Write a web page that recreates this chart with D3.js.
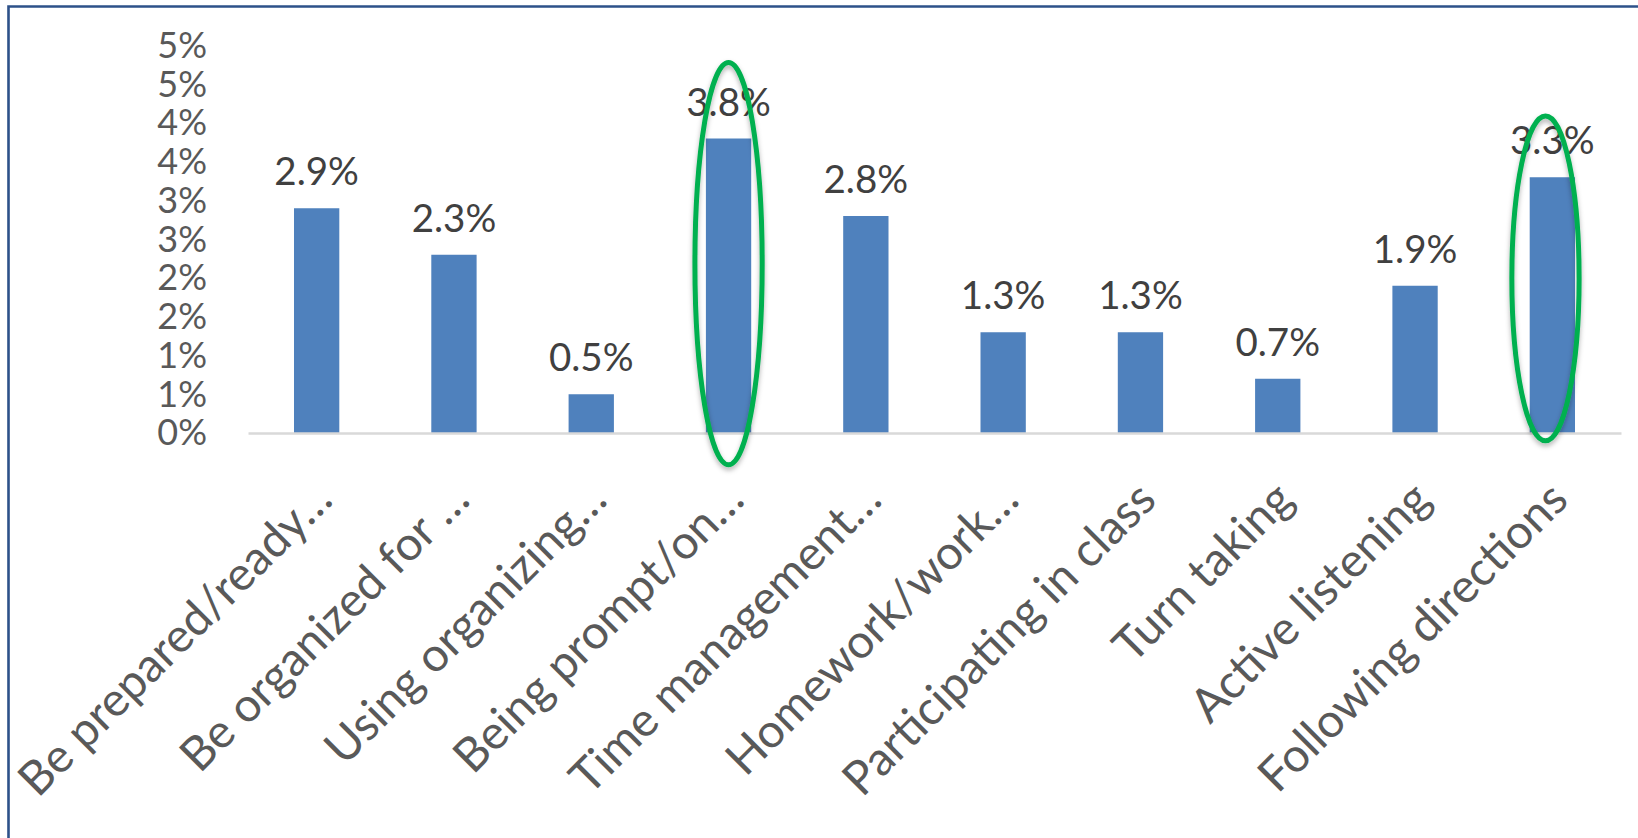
<!DOCTYPE html>
<html>
<head>
<meta charset="utf-8">
<script src="https://cdn.jsdelivr.net/npm/d3@7"></script>
<style>
  html, body { margin: 0; padding: 0; background: #ffffff; }
  svg { display: block; }
</style>
</head>
<body>
<svg id="chart" width="1638" height="838"></svg>
<script>
// Share of responses by skill category (percent)
const categories = [
  "Be prepared/ready…",
  "Be organized for …",
  "Using organizing…",
  "Being prompt/on…",
  "Time management…",
  "Homework/work…",
  "Participating in class",
  "Turn taking",
  "Active listening",
  "Following directions"
];
const values = [2.9, 2.3, 0.5, 3.8, 2.8, 1.3, 1.3, 0.7, 1.9, 3.3];
const valueLabels = ["2.9%", "2.3%", "0.5%", "3.8%", "2.8%", "1.3%", "1.3%", "0.7%", "1.9%", "3.3%"];

// Axis ticks every 0.5 point, labelled with whole-percent rounding
const tickValues = [0, 0.5, 1, 1.5, 2, 2.5, 3, 3.5, 4, 4.5, 5];
const tickLabels = ["0%", "1%", "1%", "2%", "2%", "3%", "3%", "4%", "4%", "5%", "5%"];

// Circled categories with the vertical span of each ring (percent units)
const highlightCategories = ["Being prompt/on…", "Following directions"];
const highlightTop = [4.78, 4.09];
const highlightBottom = [-0.41, -0.10];

const W = 1638, H = 838;
const plot = { left: 248, right: 1621, top: 45.5, bottom: 433 };
const FONT = "Lato, 'Open Sans', sans-serif";

const svg = d3.select("#chart");

// drop shadow for the rings
const defs = svg.append("defs");
const f = defs.append("filter").attr("id", "ringShadow")
  .attr("x", "-30%").attr("y", "-10%").attr("width", "160%").attr("height", "120%");
f.append("feDropShadow").attr("dx", 0).attr("dy", 3).attr("stdDeviation", 2.5)
  .attr("flood-color", "#000").attr("flood-opacity", 0.3);

svg.append("rect").attr("width", W).attr("height", H).attr("fill", "#ffffff");

// frame: only the top and left edges fall inside the canvas
svg.append("path")
  .attr("d", `M8.5,${H} L8.5,6.5 L${W},6.5`)
  .attr("fill", "none").attr("stroke", "#2D5189").attr("stroke-width", 2.6);

const x = d3.scaleBand().domain(categories).range([plot.left, plot.right]).padding(0);
const y = d3.scaleLinear().domain([0, 5]).range([plot.bottom, plot.top]);
const barW = x.bandwidth() * 0.33;
const cx = c => x(c) + x.bandwidth() / 2;

// value axis labels (no axis line, no gridlines)
const yAxis = d3.axisLeft(y).tickValues(tickValues)
  .tickFormat((d, i) => tickLabels[i]).tickSize(0).tickPadding(0);
const gy = svg.append("g").attr("transform", `translate(207,0)`).call(yAxis);
gy.select(".domain").remove();
gy.selectAll("text")
  .attr("font-family", FONT).attr("font-size", 36).attr("fill", "#595959")
  .attr("dy", "0.33em");

// bars
svg.append("g").selectAll("rect").data(values).join("rect")
  .attr("x", (d, i) => cx(categories[i]) - barW / 2)
  .attr("y", d => y(d))
  .attr("width", barW)
  .attr("height", d => y(0) - y(d))
  .attr("fill", "#4F81BD");

// category axis line
const xAxis = d3.axisBottom(x).tickSize(0).tickFormat("");
const gx = svg.append("g").attr("transform", `translate(0,${plot.bottom})`).call(xAxis);
gx.select(".domain").attr("stroke", "#D9D9D9").attr("stroke-width", 2.5);

// rotated category labels
svg.append("g").selectAll("text").data(categories).join("text")
  .attr("transform", d => `translate(${cx(d) + 18},${plot.bottom + 69}) rotate(-45)`)
  .attr("text-anchor", "end")
  .attr("font-family", FONT).attr("font-size", 47).attr("fill", "#595959")
  .text(d => d);

// value labels above bars
svg.append("g").selectAll("text").data(values).join("text")
  .attr("x", (d, i) => cx(categories[i]))
  .attr("y", d => y(d) - 23)
  .attr("text-anchor", "middle")
  .attr("font-family", FONT).attr("font-size", 38.5).attr("fill", "#404040")
  .text((d, i) => valueLabels[i]);

// green rings around the highlighted bars
const ringShift = [0, -0.05];
svg.append("g").selectAll("ellipse").data(highlightCategories).join("ellipse")
  .attr("cx", (d, i) => cx(d) + ringShift[i] * x.bandwidth())
  .attr("cy", (d, i) => (y(highlightTop[i]) + y(highlightBottom[i])) / 2)
  .attr("rx", x.bandwidth() * 0.245)
  .attr("ry", (d, i) => (y(highlightBottom[i]) - y(highlightTop[i])) / 2)
  .attr("fill", "none").attr("stroke", "#00B050").attr("stroke-width", 5)
  .attr("filter", "url(#ringShadow)");
</script>
</body>
</html>
